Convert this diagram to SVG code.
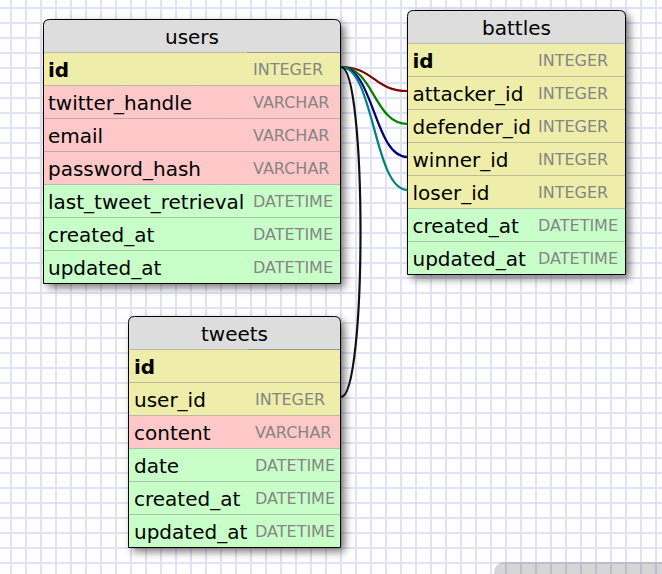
<svg xmlns="http://www.w3.org/2000/svg" width="662" height="574" viewBox="0 0 662 574">
<style>
.f{font-family:"DejaVu Sans","Liberation Sans",sans-serif;font-size:20px;fill:#000}
.b{font-weight:bold}
.t{font-family:"DejaVu Sans","Liberation Sans",sans-serif;font-size:16px;fill:#858585}
.h{font-family:"DejaVu Sans","Liberation Sans",sans-serif;font-size:20px;fill:#000;text-anchor:middle}
.y{fill:#eeeeaa}.p{fill:#ffc8c8}.g{fill:#c8ffc8}.hd{fill:#dddddd}
.d{stroke:#888;stroke-width:1;stroke-dasharray:1 1;fill:none}
.o{fill:none;stroke:#000;stroke-width:1}
.c{fill:none;stroke-width:2.2}
</style>
<defs>
<pattern id="grid" patternUnits="userSpaceOnUse" x="10" y="7" width="15" height="15">
<rect width="15" height="15" fill="#fff"/>
<rect x="0" y="0" width="2" height="15" fill="#e2e2f5"/>
<rect x="0" y="0" width="15" height="2" fill="#e2e2f5"/>
</pattern>
<filter id="sh" x="-10%" y="-10%" width="125%" height="125%">
<feDropShadow dx="4" dy="4" stdDeviation="4" flood-color="#000" flood-opacity="0.55"/>
</filter>
</defs>
<rect width="662" height="574" fill="url(#grid)"/>
<path d="M494,574 V574 Q494,562 506,562 H662 V574 Z" fill="#000" fill-opacity="0.16"/>

<g id="users">
<path d="M43.5,283.5 V25.5 Q43.5,19.5 49.5,19.5 H334.5 Q340.5,19.5 340.5,25.5 V283.5 Z" fill="#fff" filter="url(#sh)"/>
<path class="hd" d="M43.5,52.5 V25.5 Q43.5,19.5 49.5,19.5 H334.5 Q340.5,19.5 340.5,25.5 V52.5 Z"/>
<rect class="y" x="43.5" y="52.5" width="297" height="33"/>
<rect class="p" x="43.5" y="85.5" width="297" height="99"/>
<rect class="g" x="43.5" y="184.5" width="297" height="99"/>
<path class="d" d="M43.5,52.5H247 M43.5,85.5H340.5 M43.5,118.5H340.5 M43.5,151.5H340.5 M43.5,184.5H340.5 M43.5,217.5H340.5 M43.5,250.5H340.5"/>
<path d="M247,52.5H340.5" stroke="#999" stroke-width="1"/>
<path class="o" d="M43.5,283.5 V25.5 Q43.5,19.5 49.5,19.5 H334.5 Q340.5,19.5 340.5,25.5 V283.5 Z"/>
<text class="h" x="192" y="43.5">users</text>
<text class="f b" x="48" y="77">id</text><text class="t" x="253" y="74.5">INTEGER</text>
<text class="f" x="48" y="110">twitter_handle</text><text class="t" x="253" y="107.5">VARCHAR</text>
<text class="f" x="48" y="143">email</text><text class="t" x="253" y="140.5">VARCHAR</text>
<text class="f" x="48" y="176">password_hash</text><text class="t" x="253" y="173.5">VARCHAR</text>
<text class="f" x="48" y="209">last_tweet_retrieval</text><text class="t" x="253" y="206.5">DATETIME</text>
<text class="f" x="48" y="242">created_at</text><text class="t" x="253" y="239.5">DATETIME</text>
<text class="f" x="48" y="275">updated_at</text><text class="t" x="253" y="272.5">DATETIME</text>
</g>

<g id="battles">
<path d="M407.5,274.5 V16.5 Q407.5,10.5 413.5,10.5 H619.5 Q625.5,10.5 625.5,16.5 V274.5 Z" fill="#fff" filter="url(#sh)"/>
<path class="hd" d="M407.5,43.5 V16.5 Q407.5,10.5 413.5,10.5 H619.5 Q625.5,10.5 625.5,16.5 V43.5 Z"/>
<rect class="y" x="407.5" y="43.5" width="218" height="165"/>
<rect class="g" x="407.5" y="208.5" width="218" height="66"/>
<path class="d" d="M407.5,43.5H625.5 M407.5,76.5H625.5 M407.5,109.5H625.5 M407.5,142.5H625.5 M407.5,175.5H625.5 M407.5,208.5H625.5 M407.5,241.5H625.5"/>
<path class="o" d="M407.5,274.5 V16.5 Q407.5,10.5 413.5,10.5 H619.5 Q625.5,10.5 625.5,16.5 V274.5 Z"/>
<text class="h" x="516.5" y="35">battles</text>
<text class="f b" x="412.5" y="68">id</text><text class="t" x="538" y="65.5">INTEGER</text>
<text class="f" x="412.5" y="101">attacker_id</text><text class="t" x="538" y="98.5">INTEGER</text>
<text class="f" x="412.5" y="134">defender_id</text><text class="t" x="538" y="131.5">INTEGER</text>
<text class="f" x="412.5" y="167">winner_id</text><text class="t" x="538" y="164.5">INTEGER</text>
<text class="f" x="412.5" y="200">loser_id</text><text class="t" x="538" y="197.5">INTEGER</text>
<text class="f" x="412.5" y="233">created_at</text><text class="t" x="538" y="230.5">DATETIME</text>
<text class="f" x="412.5" y="266">updated_at</text><text class="t" x="538" y="263.5">DATETIME</text>
</g>

<g id="tweets">
<path d="M128.5,547.5 V322.5 Q128.5,316.5 134.5,316.5 H334.5 Q340.5,316.5 340.5,322.5 V547.5 Z" fill="#fff" filter="url(#sh)"/>
<path class="hd" d="M128.5,349.5 V322.5 Q128.5,316.5 134.5,316.5 H334.5 Q340.5,316.5 340.5,322.5 V349.5 Z"/>
<rect class="y" x="128.5" y="349.5" width="212" height="66"/>
<rect class="p" x="128.5" y="415.5" width="212" height="33"/>
<rect class="g" x="128.5" y="448.5" width="212" height="99"/>
<path class="d" d="M128.5,349.5H248 M128.5,382.5H340.5 M128.5,415.5H340.5 M128.5,448.5H340.5 M128.5,481.5H340.5 M128.5,514.5H340.5"/>
<path d="M248,349.5H340.5" stroke="#999" stroke-width="1"/>
<path class="o" d="M128.5,547.5 V322.5 Q128.5,316.5 134.5,316.5 H334.5 Q340.5,316.5 340.5,322.5 V547.5 Z"/>
<text class="h" x="234.5" y="341">tweets</text>
<text class="f b" x="134" y="374">id</text>
<text class="f" x="134" y="407">user_id</text><text class="t" x="255" y="404.5">INTEGER</text>
<text class="f" x="134" y="440">content</text><text class="t" x="255" y="437.5">VARCHAR</text>
<text class="f" x="134" y="473">date</text><text class="t" x="255" y="470.5">DATETIME</text>
<text class="f" x="134" y="506">created_at</text><text class="t" x="255" y="503.5">DATETIME</text>
<text class="f" x="134" y="539">updated_at</text><text class="t" x="255" y="536.5">DATETIME</text>
</g>

<g id="connectors">
<path class="c" stroke="#800000" d="M341,67 C374,67 374,91 407.5,91"/>
<path class="c" stroke="#008000" d="M341,67 C374,67 374,124 407.5,124"/>
<path class="c" stroke="#000080" d="M341,67 C374,67 374,157 407.5,157"/>
<path class="c" stroke="#008080" d="M341,67 C374,67 374,190 407.5,190"/>
<path class="c" stroke="#111" stroke-width="2.8" d="M341,67 C367,67 367,397 341,397"/>
</g>
</svg>
